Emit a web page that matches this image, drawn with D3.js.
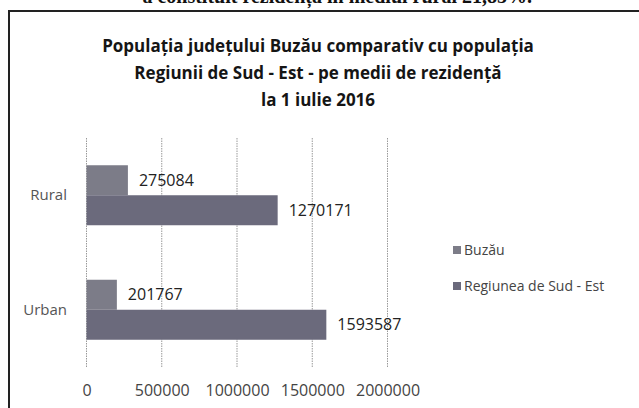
<!DOCTYPE html>
<html lang="ro">
<head>
<meta charset="utf-8">
<title>Populația județului Buzău</title>
<script src="https://cdn.jsdelivr.net/npm/d3@7"></script>
<style>
  body { margin: 0; background: #fff; }
  svg { display: block; font-family: "Open Sans", "Noto Sans", sans-serif; }
</style>
</head>
<body>
<div id="chart"></div>
<script>
// data
const categories = ["Rural", "Urban"];
const series = ["Buzău", "Regiunea de Sud - Est"];
const buzau = [275084, 201767];
const regiune = [1270171, 1593587];
const ticks = [0, 500000, 1000000, 1500000, 2000000];
const titleLines = [
  "Populația județului Buzău comparativ cu populația",
  "Regiunii de Sud - Est - pe medii de rezidență",
  "la 1 iulie 2016"
];
const colors = ["#7c7c88", "#6b6a7c"];

const width = 639, height = 408;

const svg = d3.select("#chart").append("svg")
  .attr("width", width)
  .attr("height", height);

// scrap of the text line above the chart (cut off by the scan)
svg.append("text")
  .attr("x", 532).attr("y", 3)
  .attr("text-anchor", "end")
  .attr("font-family", "Liberation Serif, serif")
  .attr("font-weight", "bold")
  .attr("font-size", 20)
  .attr("fill", "#111")
  .text("a constituit rezidența în mediul rural 21,85%.");

// frame (only left + top edges are visible)
svg.append("path")
  .attr("d", "M9,408 V11 H639")
  .attr("fill", "none")
  .attr("stroke", "#222")
  .attr("stroke-width", 2);

// title
svg.append("g").selectAll("text")
  .data(titleLines)
  .join("text")
  .attr("x", 318)
  .attr("y", (d, i) => 52 + i * 27)
  .attr("text-anchor", "middle")
  .attr("font-weight", "bold")
  .attr("font-size", 17)
  .attr("fill", "#151515")
  .text(d => d);

const x = d3.scaleLinear().domain([0, 2000000]).range([86.5, 387.5]);
const y = d3.scaleBand().domain(categories).range([138, 367]);
const y1 = d3.scaleBand().domain(series).range([-30, 30]);

// dotted gridlines
svg.append("g").selectAll("line")
  .data(ticks)
  .join("line")
  .attr("x1", d => x(d)).attr("x2", d => x(d))
  .attr("y1", 138).attr("y2", 367)
  .attr("stroke", "#999")
  .attr("stroke-width", 1)
  .attr("stroke-dasharray", "1.5,1");

// x axis labels
const xAxis = svg.append("g")
  .attr("transform", "translate(0,382)")
  .call(d3.axisBottom(x).tickValues(ticks).tickFormat(d3.format("d")).tickSize(0));
xAxis.select(".domain").remove();
xAxis.selectAll("text")
  .attr("font-family", "Open Sans, sans-serif")
  .attr("font-size", 16)
  .attr("fill", "#444");

// y axis labels
const yAxis = svg.append("g")
  .attr("transform", "translate(70,0)")
  .call(d3.axisLeft(y).tickSize(0));
yAxis.select(".domain").remove();
yAxis.selectAll("text")
  .attr("font-family", "Open Sans, sans-serif")
  .attr("font-size", 15)
  .attr("fill", "#555");

// bars
const rows = categories.map((c, i) => ({ cat: c, values: [buzau[i], regiune[i]] }));
const groups = svg.append("g").selectAll("g")
  .data(rows)
  .join("g")
  .attr("transform", d => `translate(0,${y(d.cat) + y.bandwidth() / 2})`);

groups.selectAll("rect")
  .data(d => d.values.map((v, k) => ({ s: series[k], v, k })))
  .join("rect")
  .attr("x", x(0))
  .attr("y", d => y1(d.s))
  .attr("width", d => x(d.v) - x(0))
  .attr("height", y1.bandwidth())
  .attr("fill", d => colors[d.k]);

groups.selectAll("text")
  .data(d => d.values.map((v, k) => ({ s: series[k], v, k })))
  .join("text")
  .attr("x", d => x(d.v) + 11)
  .attr("y", d => y1(d.s) + y1.bandwidth() / 2)
  .attr("dy", "0.35em")
  .attr("font-size", 16)
  .attr("fill", "#222")
  .text(d => d.v);

// legend
const legend = svg.append("g").selectAll("g")
  .data(series)
  .join("g")
  .attr("transform", (d, i) => `translate(453,${250 + i * 36})`);
legend.append("rect")
  .attr("x", 0).attr("y", -4)
  .attr("width", 8).attr("height", 8)
  .attr("fill", (d, i) => colors[i]);
legend.append("text")
  .attr("x", 11)
  .attr("dy", "0.35em")
  .attr("font-size", 14)
  .attr("fill", "#444")
  .text(d => d);
</script>
</body>
</html>
